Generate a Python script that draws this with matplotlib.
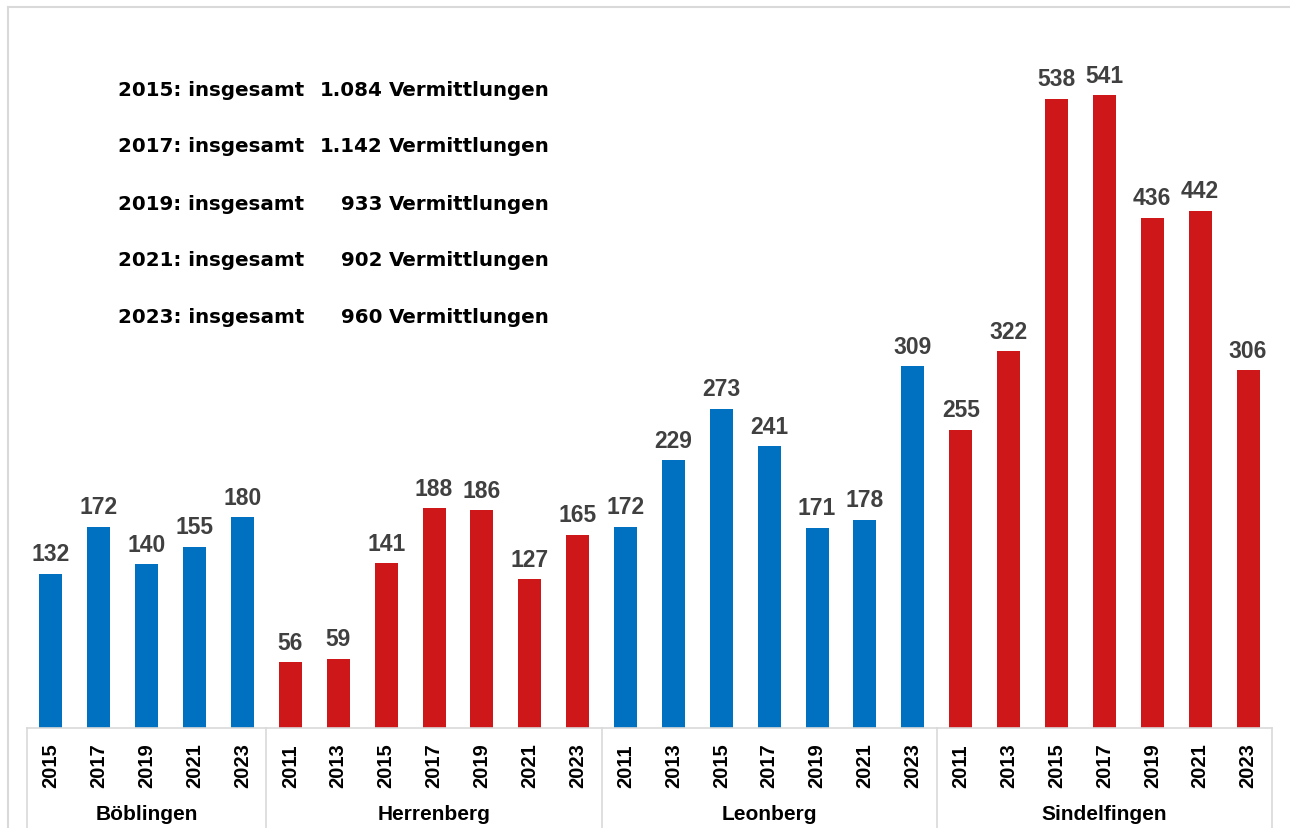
import matplotlib
matplotlib.use("Agg")
import matplotlib.pyplot as plt
from matplotlib.lines import Line2D

plt.rcParams['font.family'] = ['Liberation Sans', 'DejaVu Sans']

groups = ["Böblingen", "Herrenberg", "Leonberg", "Sindelfingen"]
years_boeblingen = ["2015", "2017", "2019", "2021", "2023"]
years_other = ["2011", "2013", "2015", "2017", "2019", "2021", "2023"]
vals_boeblingen = [132, 172, 140, 155, 180]
vals_herrenberg = [56, 59, 141, 188, 186, 127, 165]
vals_leonberg = [172, 229, 273, 241, 171, 178, 309]
vals_sindelfingen = [255, 322, 538, 541, 436, 442, 306]
group_colors = ["#0070C0", "#CD1719", "#0070C0", "#CD1719"]

summary_years = ["2015", "2017", "2019", "2021", "2023"]
summary_totals = ["1.084", "1.142", "933", "902", "960"]

group_years = [years_boeblingen, years_other, years_other, years_other]
group_vals = [vals_boeblingen, vals_herrenberg, vals_leonberg, vals_sindelfingen]

W, H = 1290, 829
fig = plt.figure(figsize=(W / 100, H / 100), dpi=100)

# outer chart frame
fig.add_artist(Line2D([8 / W, 8 / W], [0, 1 - 8 / H], color="#D9D9D9", lw=1.5, transform=fig.transFigure))
fig.add_artist(Line2D([8 / W, 1], [1 - 8 / H, 1 - 8 / H], color="#D9D9D9", lw=1.5, transform=fig.transFigure))

ax_left, ax_right = 27 / W, 1272 / W
ax_bottom, ax_top = (H - 729) / H, (H - 27) / H
ax = fig.add_axes([ax_left, ax_bottom, ax_right - ax_left, ax_top - ax_bottom])

xs, labels, heights, colors = [], [], [], []
i = 0
bounds = [0]
for g, (yrs, vals, c) in enumerate(zip(group_years, group_vals, group_colors)):
    for y, v in zip(yrs, vals):
        xs.append(i)
        labels.append(y)
        heights.append(v)
        colors.append(c)
        i += 1
    bounds.append(i)

n = len(xs)
ax.bar(xs, heights, width=0.48, color=colors)
for x, v in zip(xs, heights):
    ax.annotate(str(v), (x, v), xytext=(0, 9.7), textcoords="offset points",
                ha="center", va="baseline", fontsize=16.5, fontweight="bold", color="#404040")

ax.set_xlim(-0.5, n - 0.5)
ax.set_ylim(0, 600)
ax.axis("off")

# category table under axis
tr = ax.get_xaxis_transform()
ax.plot([-0.5, n - 0.5], [0, 0], color="#D9D9D9", lw=1.2, transform=tr, clip_on=False)
for b in bounds:
    ax.plot([b - 0.5, b - 0.5], [0, -0.2], color="#D9D9D9", lw=1.2, transform=tr, clip_on=False)

for x, lab in zip(xs, labels):
    ax.text(x, -37 / 702, lab, transform=tr, rotation=90, ha="center", va="center",
            fontsize=14.5, fontweight="bold", color="black")

for g, name in enumerate(groups):
    cx = (bounds[g] + bounds[g + 1] - 1) / 2
    ax.text(cx, -86 / 702, name, transform=tr, ha="center", va="center",
            fontsize=15, fontweight="bold", color="black")

# summary text
sfont = dict(fontsize=14.3, fontweight="bold", color="black", family=["DejaVu Sans"])
for k, (yr, tot) in enumerate(zip(summary_years, summary_totals)):
    ypix = 90 + k * 57
    yf = 1 - ypix / H
    fig.text(118 / W, yf, f"{yr}: insgesamt", ha="left", va="center", **sfont)
    fig.text(383 / W, yf, tot, ha="right", va="center", **sfont)
    fig.text(389 / W, yf, "Vermittlungen", ha="left", va="center", **sfont)

fig.savefig("out.png", dpi=100)
